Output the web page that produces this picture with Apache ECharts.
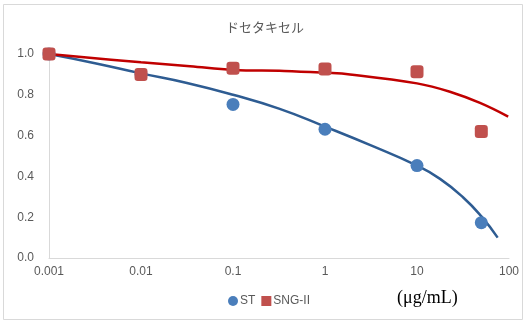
<!DOCTYPE html>
<html>
<head>
<meta charset="utf-8">
<script src="https://cdn.jsdelivr.net/npm/echarts@6/dist/echarts.min.js"></script>
<style>
html,body{margin:0;padding:0;background:#fff;}
#chart{width:530px;height:323px;}
</style>
</head>
<body>
<div id="chart"></div>
<script>
// Concentrations (μg/mL) and survival ratios
const concentrations = [0.001, 0.01, 0.1, 1, 10, 50];
const stValues = [1.0, 0.90, 0.753, 0.631, 0.453, 0.173];
const sngValues = [1.0, 0.90, 0.93, 0.926, 0.913, 0.62];

// Trend curves read along their length
const stCurveX = [0.001, 0.00316, 0.01, 0.0316, 0.1, 0.316, 1, 3.16, 10, 17.8, 31.6, 50.1, 75.3];
const stCurveY = [1.0, 0.955, 0.905, 0.858, 0.80, 0.732, 0.644, 0.552, 0.453, 0.388, 0.298, 0.204, 0.100];
const sngCurveX = [0.001, 0.01, 0.0341, 0.1, 0.36, 1, 1.87, 10, 22.8, 48.4, 98];
const sngCurveY = [1.0, 0.959, 0.94, 0.922, 0.917, 0.908, 0.90, 0.856, 0.815, 0.76, 0.693];

const xTickLabels = ['0.001', '0.01', '0.1', '1', '10', '100'];

const zip = (xs, ys) => xs.map((x, i) => [x, ys[i]]);

const chart = echarts.init(document.getElementById('chart'), null, {renderer: 'canvas'});
chart.setOption({
  backgroundColor: '#fff',
  animation: false,
  title: {
    text: 'ドセタキセル',
    left: 'center',
    top: 16,
    textStyle: {fontSize: 13, fontWeight: 'normal', color: '#595959', fontFamily: 'Noto Sans CJK JP'}
  },
  graphic: [
    {type: 'rect', shape: {x: 3.5, y: 4.5, width: 519, height: 315}, style: {fill: null, stroke: '#d9d9d9', lineWidth: 1}, silent: true},
    {type: 'text', left: 397, top: 289, style: {text: '(μg/mL)', font: '18px "Liberation Serif"', fill: '#000'}}
  ],
  legend: {
    data: [{name: 'ST', icon: 'circle'}, {name: 'SNG-II', icon: 'rect'}],
    left: 223, top: 290,
    itemWidth: 10, itemHeight: 10, itemGap: 6,
    textStyle: {fontSize: 12, color: '#595959', fontFamily: 'Liberation Sans', padding: [0, 0, 0, -3]}
  },
  grid: {left: 49, right: 21, top: 54, bottom: 65, containLabel: false},
  xAxis: {
    type: 'log', logBase: 10, min: 0.001, max: 100,
    axisLine: {show: true, lineStyle: {color: '#d9d9d9'}},
    axisTick: {show: false},
    splitLine: {show: false},
    axisLabel: {
      color: '#595959', fontSize: 12, fontFamily: 'Liberation Sans', margin: 8,
      formatter: (v) => {
        const i = Math.round(Math.log10(v)) + 3;
        return xTickLabels[i] !== undefined ? xTickLabels[i] : '';
      }
    }
  },
  yAxis: {
    type: 'value', min: 0, max: 1, interval: 0.2,
    axisLine: {show: true, lineStyle: {color: '#d9d9d9'}},
    axisTick: {show: false},
    splitLine: {show: false},
    axisLabel: {color: '#595959', fontSize: 12, fontFamily: 'Liberation Sans', margin: 15,
      formatter: (v) => v.toFixed(1)}
  },
  series: [
    {
      name: 'ST curve', type: 'line', smooth: 0.5, showSymbol: false, silent: true,
      data: zip(stCurveX, stCurveY),
      lineStyle: {color: '#2E5C92', width: 2.5}, z: 2
    },
    {
      name: 'SNG-II curve', type: 'line', smooth: 0.4, showSymbol: false, silent: true,
      data: zip(sngCurveX, sngCurveY),
      lineStyle: {color: '#C00000', width: 2.5}, z: 2
    },
    {
      name: 'ST', type: 'scatter', symbol: 'circle', symbolSize: 13,
      data: zip(concentrations, stValues),
      itemStyle: {color: '#4A7EBB', opacity: 1}, z: 3
    },
    {
      name: 'SNG-II', type: 'scatter', symbol: 'roundRect', symbolSize: 13,
      data: zip(concentrations, sngValues),
      itemStyle: {color: '#C0504D', opacity: 1}, z: 4
    }
  ]
});
</script>
</body>
</html>
